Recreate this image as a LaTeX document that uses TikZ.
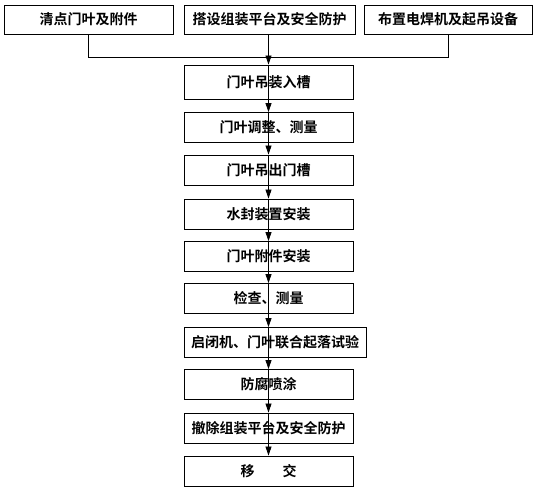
\documentclass[tikz,border=0pt]{standalone}
\usepackage{fontspec}
\newfontfamily\cjk{Noto Sans CJK SC}[BoldFont={Noto Sans CJK SC Bold}]
\usetikzlibrary{arrows.meta}
\begin{document}
\begin{tikzpicture}[x=1pt,y=-1pt,
  box/.style={draw=black,line width=0.9pt,minimum height=30pt,inner sep=0pt,
    font=\cjk\bfseries\fontsize{14}{16}\selectfont},
  colbox/.style={box,minimum width=169pt},
  link/.style={line width=0.8pt},
  arr/.style={link,-{Triangle[length=9pt,width=6pt]}}]
\useasboundingbox (0,0) rectangle (554,492);
% top row
\node[box,minimum width=169pt,minimum height=29pt] (t1) at (88.5,19.5) {清点门叶及附件};
\node[box,minimum width=171pt,minimum height=29pt] (t2) at (269.5,19.5) {搭设组装平台及安全防护};
\node[box,minimum width=168pt,minimum height=29pt] (t3) at (448,19.5) {布置电焊机及起吊设备};
% column
\node[colbox,minimum height=34pt] (s1) at (268.5,82) {门叶吊装入槽};
\node[colbox] (s2) at (268.5,127.5) {门叶调整、测量};
\node[colbox] (s3) at (268.5,170) {门叶吊出门槽};
\node[colbox] (s4) at (268.5,214) {水封装置安装};
\node[colbox] (s5) at (268.5,256.5) {门叶附件安装};
\node[colbox] (s6) at (268.5,298.5) {检查、测量};
\node[box,minimum width=182pt] (s7) at (275,342.5) {启闭机、门叶联合起落试验};
\node[colbox] (s8) at (268.5,384.5) {防腐喷涂};
\node[colbox] (s9) at (268.5,428) {撤除组装平台及安全防护};
\node[colbox] (s10) at (268.5,471) {移\hspace{2em}交};
% collector
\coordinate (jl) at (t1.south |- 0,57);
\coordinate (jr) at (t3.south |- 0,57);
\draw[link] (t1.south) -- (jl) -- (jr) -- (t3.south);
\draw[arr] (t2.south -| s1.north) -- (s1.north);
% chain
\foreach \a/\b in {s1/s2,s2/s3,s3/s4,s4/s5,s5/s6,s6/s7,s7/s8,s8/s9,s9/s10}{
  \draw[arr] (\a.north -| s1.north) -- (\b.north -| s1.north);
}
\end{tikzpicture}
\end{document}
